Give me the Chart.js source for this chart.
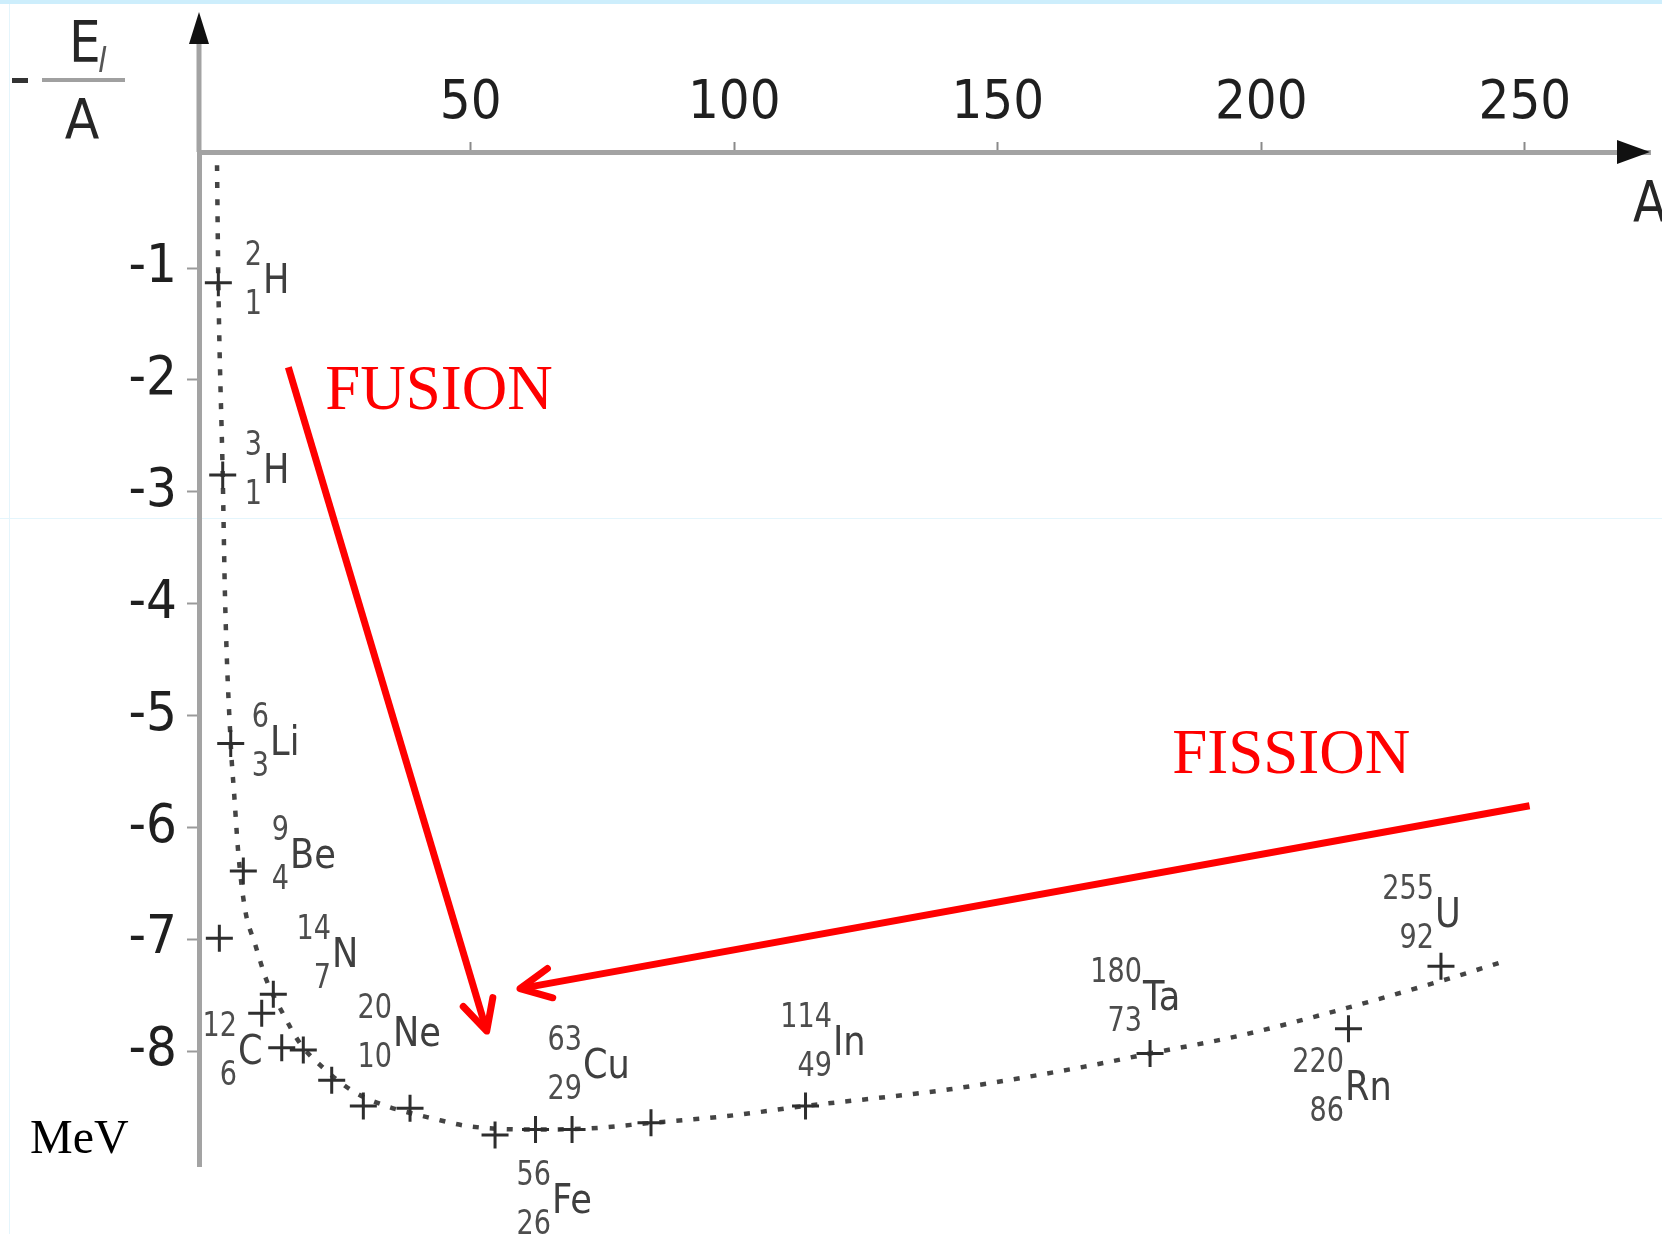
<!DOCTYPE html>
<html>
<head>
<meta charset="utf-8">
<title>Binding energy per nucleon</title>
<script src="https://cdn.jsdelivr.net/npm/chart.js@4.4.1/dist/chart.umd.min.js"></script>
<style>
  html, body { margin: 0; padding: 0; background: #ffffff; }
  #wrap { width: 1662px; height: 1234px; }
</style>
</head>
<body>
<div id="wrap"><canvas id="myChart" width="1662" height="1234"></canvas></div>
<script>
//-----------------------------------------------------------------
// DATA

var xTickVals = [50, 100, 150, 200, 250];
var yTickVals = [-1, -2, -3, -4, -5, -6, -7, -8];

// dotted curve through the nuclides
var curveA = [1.86, 2.11, 2.94, 3.38, 4.46, 5.14, 5.90, 7.17, 9.07, 11.29, 14.33, 17.61, 22.03, 27.72,
              33.41, 43.55, 49.54, 62.20, 72.63, 84.34, 98.57, 113.42, 140.93, 166.23, 178.89,
              195.96, 214.93, 234.22, 246.56];
var curveE = [-0.08, -1.13, -2.85, -3.95, -5.25, -5.72, -6.23, -6.73, -7.04, -7.37, -7.66, -7.93, -8.15, -8.36,
              -8.48, -8.61, -8.67, -8.70, -8.69, -8.64, -8.58, -8.49, -8.34, -8.14, -8.02,
              -7.86, -7.63, -7.37, -7.19];

// "+" marks
var nucA = [2.11, 2.94, 4.46, 6.85, 2.30, 12.54, 10.34, 14.14, 18.23, 23.62, 29.62, 38.48,
            54.61, 62.29, 69.22, 84.20, 113.52, 178.89, 216.54, 234.09];
var nucE = [-1.13, -2.85, -5.25, -6.39, -6.99, -7.49, -7.66, -7.97, -7.99, -8.26, -8.49, -8.51,
            -8.75, -8.70, -8.70, -8.64, -8.49, -8.02, -7.80, -7.24];

// isotope labels: symbol, mass number, atomic number, anchor (A, E) of the symbol
var isoSym  = ['H', 'H', 'Li', 'Be', 'N', 'C', 'Ne', 'Cu', 'Fe', 'In', 'Ta', 'Rn', 'U'];
var isoMass = ['2', '3', '6', '9', '14', '12', '20', '63', '56', '114', '180', '220', '255'];
var isoZ    = ['1', '1', '3', '4', '7', '6', '10', '29', '26', '49', '73', '86', '92'];
var isoA    = [10.59, 10.59, 11.92, 15.71, 23.68, 5.84, 35.25, 71.30, 65.42, 118.73, 177.55, 215.87, 232.94];
var isoE    = [-1.22, -2.92, -5.35, -6.36, -7.25, -8.11, -7.95, -8.24, -9.45, -8.03, -7.63, -8.44, -6.89];

// red arrows and their words
var fusionArrowA = [15.39, 53.03];
var fusionArrowE = [-1.885, -7.82];
var fissionArrowA = [250.9, 59.35];
var fissionArrowE = [-5.806, -7.44];
var processWords = ['FUSION', 'FISSION'];
var processA = [22.4, 183.1];
var processE = [-2.255, -5.514];

//-----------------------------------------------------------------
// HELPERS

function toPoints(xs, ys) {
    return xs.map((v, i) => ({ x: v, y: ys[i] }));
}

// the source drawing uses horizontally narrow lettering
function squashText(ctx, text, x, y, font, align, sx, color) {
    ctx.save();
    ctx.translate(x, y);
    ctx.scale(sx, 1);
    ctx.font = font;
    ctx.fillStyle = color;
    ctx.textAlign = align;
    ctx.textBaseline = 'alphabetic';
    ctx.fillText(text, 0, 0);
    ctx.restore();
}

function arrowHead(ctx, x0, y0, x1, y1, len, deg) {
    const ang = Math.atan2(y0 - y1, x0 - x1);
    const a = deg * Math.PI / 180;
    ctx.beginPath();
    ctx.moveTo(x1 + len * Math.cos(ang + a), y1 + len * Math.sin(ang + a));
    ctx.lineTo(x1, y1);
    ctx.lineTo(x1 + len * Math.cos(ang - a), y1 + len * Math.sin(ang - a));
    ctx.stroke();
}

const SANS = '"DejaVu Sans", sans-serif';
const SERIF = '"Liberation Serif", "Times New Roman", serif';
const TICK_FAMILY = '"DejaVu Sans Condensed", "DejaVu Sans", sans-serif';

//-----------------------------------------------------------------
// EXTRA DRAWING (axis arrows, titles, labels)

const decor = {
    id: 'decor',
    beforeDraw(chart) {
        const ctx = chart.ctx;
        ctx.save();
        ctx.fillStyle = '#ffffff';
        ctx.fillRect(0, 0, chart.width, chart.height);
        ctx.fillStyle = '#cdeefc';
        ctx.fillRect(0, 0, chart.width, 4);
        ctx.fillStyle = '#e4f5fc';
        ctx.fillRect(9, 4, 1, chart.height - 4);
        ctx.fillRect(0, 518, chart.width, 1);
        ctx.restore();
    },
    afterDraw(chart) {
        const ctx = chart.ctx;
        const area = chart.chartArea;
        const xs = chart.scales.x, ys = chart.scales.y;
        ctx.save();

        // y axis continues up to its arrow
        ctx.strokeStyle = '#a3a3a3';
        ctx.lineWidth = 5;
        ctx.beginPath();
        ctx.moveTo(area.left, area.top);
        ctx.lineTo(area.left, 40);
        ctx.stroke();

        ctx.fillStyle = '#111111';
        ctx.beginPath();
        ctx.moveTo(area.left, 12);
        ctx.lineTo(area.left - 10, 44);
        ctx.lineTo(area.left + 10, 44);
        ctx.closePath();
        ctx.fill();

        ctx.beginPath();
        ctx.moveTo(area.right, area.top);
        ctx.lineTo(area.right - 33, area.top - 12);
        ctx.lineTo(area.right - 33, area.top + 12);
        ctx.closePath();
        ctx.fill();

        // y title  - E_l / A
        ctx.fillStyle = '#333333';
        ctx.fillRect(12, 78, 16, 5);
        ctx.fillStyle = '#a0a0a0';
        ctx.fillRect(42, 78, 83, 4);
        squashText(ctx, 'E', 69, 62, '57px ' + SANS, 'left', 0.88, '#262626');
        squashText(ctx, 'l', 98, 72, 'italic 34px ' + SANS, 'left', 0.9, '#555555');
        squashText(ctx, 'A', 82, 138, '55px ' + SANS, 'center', 0.92, '#262626');

        // x title
        squashText(ctx, 'A', 1633, 222, '57px ' + SANS, 'left', 0.85, '#262626');

        // unit
        ctx.fillStyle = '#000000';
        ctx.font = '48px ' + SERIF;
        ctx.textAlign = 'left';
        ctx.textBaseline = 'alphabetic';
        ctx.fillText('MeV', 30, 1153);

        // isotope labels
        isoSym.forEach((sym, i) => {
            const px = xs.getPixelForValue(isoA[i]);
            const py = ys.getPixelForValue(isoE[i]);
            squashText(ctx, sym, px, py, '40px ' + SANS, 'left', 0.88, '#3f3f3f');
            squashText(ctx, isoMass[i], px - 1, py - 28, '33px ' + SANS, 'right', 0.82, '#4d4d4d');
            squashText(ctx, isoZ[i], px - 1, py + 21, '33px ' + SANS, 'right', 0.82, '#4d4d4d');
        });

        // arrow heads
        ctx.strokeStyle = '#ff0000';
        ctx.lineWidth = 7;
        ctx.lineCap = 'round';
        ctx.lineJoin = 'round';
        arrowHead(ctx,
            xs.getPixelForValue(fusionArrowA[0]), ys.getPixelForValue(fusionArrowE[0]),
            xs.getPixelForValue(fusionArrowA[1]), ys.getPixelForValue(fusionArrowE[1]), 34, 27);
        arrowHead(ctx,
            xs.getPixelForValue(fissionArrowA[0]), ys.getPixelForValue(fissionArrowE[0]),
            xs.getPixelForValue(fissionArrowA[1]), ys.getPixelForValue(fissionArrowE[1]), 34, 26);

        // words
        ctx.fillStyle = '#ff0000';
        ctx.font = '63px ' + SERIF;
        ctx.textAlign = 'left';
        processWords.forEach((w, i) => {
            ctx.fillText(w, xs.getPixelForValue(processA[i]), ys.getPixelForValue(processE[i]));
        });

        ctx.restore();
    }
};

//-----------------------------------------------------------------
// CHART

const ctxs = document.getElementById('myChart').getContext('2d');

const myChart = new Chart(ctxs, {
    type: 'line',
    data: {
        datasets: [
            {
                label: 'nuclides',
                data: toPoints(nucA, nucE),
                showLine: false,
                pointStyle: 'cross',
                pointRadius: 13.5,
                pointBorderWidth: 3,
                pointBorderColor: '#2e2e2e',
                borderColor: '#2e2e2e',
            },
            {
                label: 'curve',
                data: toPoints(curveA, curveE),
                borderColor: '#444444',
                borderWidth: 4.5,
                borderDash: [6, 11],
                pointRadius: 0,
                cubicInterpolationMode: 'monotone',
            },
            {
                label: 'fusion',
                data: toPoints(fusionArrowA, fusionArrowE),
                borderColor: '#ff0000',
                borderWidth: 7,
                pointRadius: 0,
            },
            {
                label: 'fission',
                data: toPoints(fissionArrowA, fissionArrowE),
                borderColor: '#ff0000',
                borderWidth: 7,
                pointRadius: 0,
            },
        ],
    },
    options: {
        responsive: false,
        devicePixelRatio: 1,
        animation: false,
        layout: {
            autoPadding: false,
            padding: { left: 0, top: 0, right: 12, bottom: 68 },
        },
        plugins: {
            legend: { display: false },
            tooltip: { enabled: false },
        },
        scales: {
            x: {
                type: 'linear',
                position: 'top',
                min: -1.56,
                max: 273.75,
                afterBuildTicks: (scale) => { scale.ticks = xTickVals.map(v => ({ value: v })); },
                afterFit: (scale) => { scale.height = 152; },
                ticks: {
                    autoSkip: false,
                    maxRotation: 0,
                    padding: 6,
                    color: '#1f1f1f',
                    font: { family: TICK_FAMILY, size: 54 },
                },
                grid: {
                    drawOnChartArea: false,
                    drawTicks: true,
                    tickLength: 10,
                    tickWidth: 2,
                    tickColor: '#8a8a8a',
                },
                border: { display: true, color: '#a3a3a3', width: 5 },
            },
            y: {
                type: 'linear',
                position: 'left',
                min: -9.026,
                max: 0.038,
                afterBuildTicks: (scale) => { scale.ticks = yTickVals.map(v => ({ value: v })); },
                afterFit: (scale) => { scale.width = 199; },
                ticks: {
                    autoSkip: false,
                    padding: 10,
                    color: '#1f1f1f',
                    font: { family: TICK_FAMILY, size: 54 },
                },
                grid: {
                    drawOnChartArea: false,
                    drawTicks: true,
                    tickLength: 12,
                    tickWidth: 2,
                    tickColor: '#9a9a9a',
                },
                border: { display: true, color: '#a3a3a3', width: 5 },
            },
        },
    },
    plugins: [decor],
});
</script>
</body>
</html>
